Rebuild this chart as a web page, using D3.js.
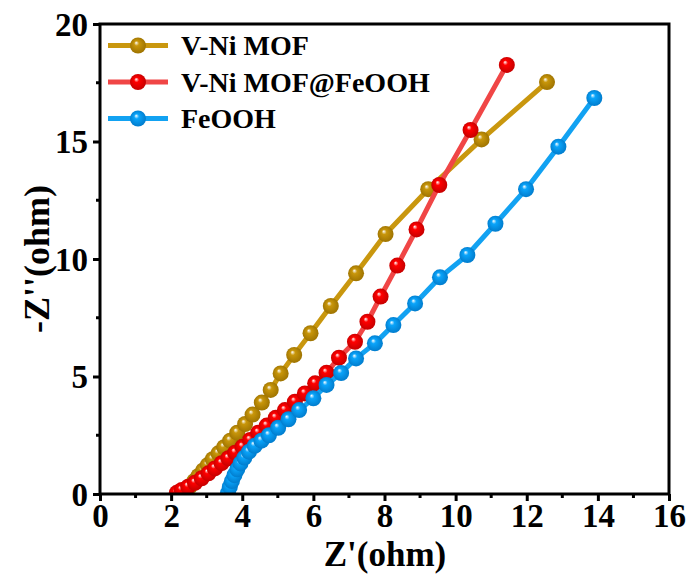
<!DOCTYPE html>
<html><head><meta charset="utf-8">
<script src="https://cdn.jsdelivr.net/npm/d3@7"></script>
<style>body{margin:0;background:#fff}svg{display:block}text{font-family:"Liberation Serif","Times New Roman",serif;font-weight:bold}</style>
</head><body><svg id="c" width="690" height="575"></svg>
<script>
const seriesNames = ["V-Ni MOF", "V-Ni MOF@FeOOH", "FeOOH"];
const vniMOF = [[2.42,0.12],[2.53,0.33],[2.65,0.55],[2.77,0.77],[2.9,1.0],[3.03,1.23],[3.17,1.48],[3.33,1.73],[3.49,1.99],[3.66,2.27],[3.86,2.61],[4.08,2.98],[4.29,3.38],[4.55,3.89],[4.80,4.43],[5.08,5.13],[5.46,5.92],[5.92,6.84],[6.49,8.0],[7.2,9.39],[8.03,11.06],[9.23,12.97],[10.73,15.09],[12.57,17.53]];
const vniFeOOH = [[2.16,0.05],[2.3,0.17],[2.48,0.31],[2.67,0.48],[2.86,0.67],[3.05,0.88],[3.23,1.09],[3.42,1.31],[3.61,1.52],[3.80,1.76],[4.01,2.01],[4.22,2.30],[4.45,2.61],[4.69,2.91],[4.94,3.24],[5.20,3.57],[5.48,3.93],[5.76,4.28],[6.05,4.71],[6.37,5.16],[6.72,5.80],[7.17,6.48],[7.52,7.33],[7.89,8.40],[8.36,9.72],[8.90,11.26],[9.54,13.15],[10.42,15.49],[11.44,18.26]];
const feOOH = [[3.6,0.05],[3.65,0.3],[3.71,0.55],[3.78,0.8],[3.86,1.05],[3.95,1.3],[4.06,1.55],[4.19,1.8],[4.35,2.05],[4.54,2.27],[4.75,2.5],[5.01,2.82],[5.3,3.18],[5.6,3.57],[6.0,4.07],[6.37,4.64],[6.78,5.15],[7.2,5.77],[7.73,6.41],[8.25,7.19],[8.86,8.11],[9.56,9.22],[10.33,10.17],[11.12,11.5],[11.98,12.97],[12.89,14.78],[13.9,16.85]];
const xTicks = [0,2,4,6,8,10,12,14,16];
const yTicks = [0,5,10,15,20];

const colors = [
  {line:"#C9970E", fill:"#C8960A", dark:"#9A7000"},
  {line:"#F04646", fill:"#FF0000", dark:"#C00000"},
  {line:"#12A2F2", fill:"#0AA4FA", dark:"#0078C8"}
];
const allData = [vniMOF, vniFeOOH, feOOH];

const L=100, R=669, T=24, B=494;
const svg = d3.select("#c");
const x = d3.scaleLinear().domain([0,16]).range([L,R]);
const y = d3.scaleLinear().domain([0,20]).range([B,T]);

const defs = svg.append("defs");
colors.forEach((c,i)=>{
  const g = defs.append("radialGradient").attr("id","g"+i).attr("cx","50%").attr("cy","50%").attr("r","55%").attr("fx","38%").attr("fy","32%");
  g.append("stop").attr("offset","0%").attr("stop-color","#ffffff");
  g.append("stop").attr("offset","28%").attr("stop-color",c.fill);
  g.append("stop").attr("offset","100%").attr("stop-color",c.dark);
});
defs.append("clipPath").attr("id","clip").append("rect").attr("x",L).attr("y",T).attr("width",R-L).attr("height",B-T);

const plot = svg.append("g").attr("clip-path","url(#clip)");
const line = d3.line().x(d=>x(d[0])).y(d=>y(d[1]));
allData.forEach((data,i)=>{
  plot.append("path").datum(data).attr("d",line).attr("fill","none").attr("stroke",colors[i].line).attr("stroke-width",5).attr("stroke-linejoin","round");
  plot.selectAll(null).data(data).enter().append("circle")
    .attr("cx",d=>x(d[0])).attr("cy",d=>y(d[1])).attr("r",8).attr("fill",`url(#g${i})`);
});

// frame
svg.append("rect").attr("x",L).attr("y",T).attr("width",R-L).attr("height",B-T).attr("fill","none").attr("stroke","#000").attr("stroke-width",3);

// axes
const xAxis = d3.axisBottom(x).tickValues(xTicks).tickSize(7).tickPadding(2).tickFormat(d3.format("d"));
const gx = svg.append("g").attr("transform",`translate(0,${B})`).call(xAxis);
const xMinor = d3.range(1,16,2);
gx.selectAll(".minor").data(xMinor).enter().append("line").attr("x1",d=>x(d)).attr("x2",d=>x(d)).attr("y1",0).attr("y2",4).attr("stroke","#000").attr("stroke-width",3);
const yAxis = d3.axisLeft(y).tickValues(yTicks).tickSize(7).tickPadding(5).tickFormat(d3.format("d"));
const gy = svg.append("g").attr("transform",`translate(${L},0)`).call(yAxis);
const yMinor = [2.5,7.5,12.5,17.5];
gy.selectAll(".minor").data(yMinor).enter().append("line").attr("y1",d=>y(d)).attr("y2",d=>y(d)).attr("x1",0).attr("x2",-4).attr("stroke","#000").attr("stroke-width",3);
[gx,gy].forEach(g=>{
  g.select(".domain").remove();
  g.selectAll(".tick line").attr("stroke","#000").attr("stroke-width",3);
  g.selectAll(".tick text").attr("fill","#000").style("font-size","33px").style("font-family","'Liberation Serif',serif").style("font-weight","bold");
});
gx.selectAll(".tick text").attr("dy","0.72em");
gy.selectAll(".tick text").attr("dy","0.34em");

// axis titles
svg.append("text").attr("x",385).attr("y",566).attr("text-anchor","middle").style("font-size","35px").text("Z'(ohm)");
svg.append("text").attr("transform",`translate(49,${(T+B)/2}) rotate(-90)`).attr("text-anchor","middle").style("font-size","36px").text("-Z''(ohm)");

// legend
const leg = svg.append("g");
seriesNames.forEach((n,i)=>{
  const yy = 45.5 + i*36.5;
  leg.append("line").attr("x1",108).attr("x2",168).attr("y1",yy).attr("y2",yy).attr("stroke",colors[i].line).attr("stroke-width",5);
  leg.append("circle").attr("cx",138).attr("cy",yy).attr("r",8).attr("fill",`url(#g${i})`);
  leg.append("text").attr("x",181).attr("y",yy).attr("dy","0.35em").style("font-size","28px").text(n);
});
</script></body></html>
